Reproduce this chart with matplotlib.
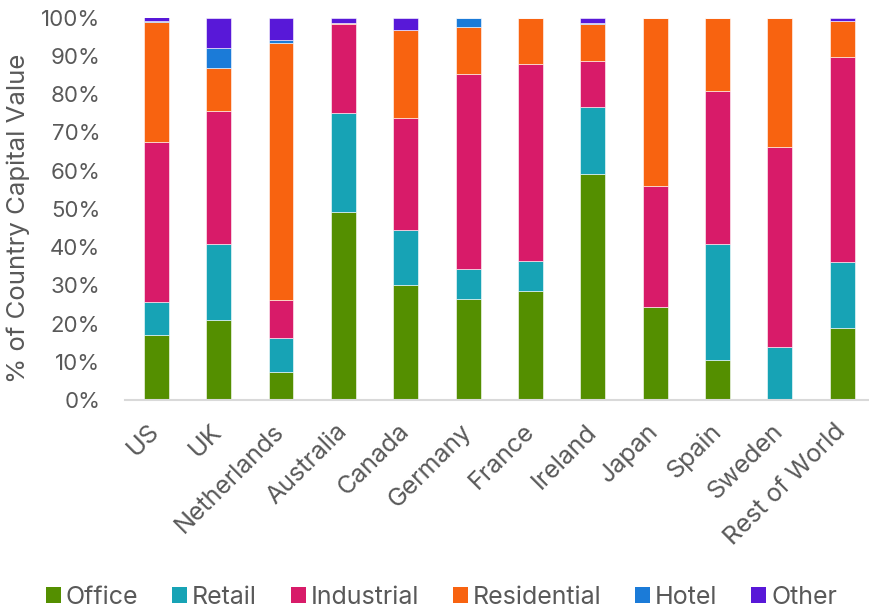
import matplotlib
matplotlib.use("Agg")
import matplotlib.pyplot as plt
import numpy as np
from matplotlib.patches import Patch

countries = ["US", "UK", "Netherlands", "Australia", "Canada", "Germany",
             "France", "Ireland", "Japan", "Spain", "Sweden", "Rest of World"]
office      = [17.0, 21.1,  7.4, 49.3, 30.0, 26.5, 28.6, 59.1, 24.4, 10.5,  0.0, 19.0]
retail      = [ 8.7, 19.8,  8.9, 25.7, 14.5,  7.8,  7.8, 17.6,  0.0, 30.3, 14.0, 17.1]
industrial  = [41.8, 34.7,  9.8, 23.4, 29.3, 51.0, 51.4, 12.0, 31.5, 40.0, 52.1, 53.7]
residential = [31.3, 11.2, 67.2,  0.1, 23.1, 12.3, 12.2,  9.6, 44.1, 19.2, 33.9,  9.3]
hotel       = [ 0.3,  5.3,  1.0,  0.0,  0.0,  2.4,  0.0,  0.2,  0.0,  0.0,  0.0,  0.0]
other       = [ 1.0,  7.9,  5.7,  1.5,  3.1,  0.0,  0.0,  1.5,  0.0,  0.0,  0.0,  0.9]

series_names = ["Office", "Retail", "Industrial", "Residential", "Hotel", "Other"]
series = [office, retail, industrial, residential, hotel, other]
colors = ["#548F00", "#17A3B5", "#D81B69", "#F86310", "#1B7BD8", "#5818D8"]

plt.rcParams['font.family'] = ['Inter', 'DejaVu Sans']
text_color = "#595959"

fig = plt.figure(figsize=(8.69, 6.11), dpi=100)
ax = fig.add_axes([0.144, 0.345, 0.856, 0.626])

x = np.arange(len(countries))
bottom = np.zeros(len(countries))
for name, vals, c in zip(series_names, series, colors):
    v = np.array(vals) / 100.0
    ax.bar(x, v, width=0.4, bottom=bottom, color=c, edgecolor="white",
           linewidth=0.4, label=name)
    bottom += v

ax.set_ylim(0, 1.0)
ax.set_xlim(-0.5, 11.43)
ticks = np.arange(0, 1.01, 0.1)
ax.set_yticks(ticks)
ax.set_yticklabels([f"{int(round(t*100))}%" for t in ticks])
ax.set_xticks(x)
ax.set_xticklabels(countries, rotation=45, ha="right", va="center",
                   rotation_mode="anchor")
ax.tick_params(axis="y", length=0, pad=18, labelsize=16, labelcolor=text_color)
ax.tick_params(axis="x", length=0, pad=20, labelsize=18, labelcolor=text_color)
for s in ["left", "right", "top"]:
    ax.spines[s].set_visible(False)
ax.spines["bottom"].set_color("#D9D9D9")
ax.spines["bottom"].set_linewidth(1.5)

ax.set_ylabel("% of Country Capital Value", fontsize=18.5, color=text_color, labelpad=10)
ax.yaxis.set_label_coords(-0.128, 0.475)

handles = [Patch(facecolor=c, edgecolor="none", label=n) for n, c in zip(series_names, colors)]
leg = fig.legend(handles=handles, loc="center", bbox_to_anchor=(0.508, 0.022), ncol=6,
                 frameon=False, fontsize=18, handlelength=0.6, handleheight=0.6,
                 handletextpad=0.2, columnspacing=1.35, labelcolor=text_color)

fig.savefig("out.png", dpi=100)
